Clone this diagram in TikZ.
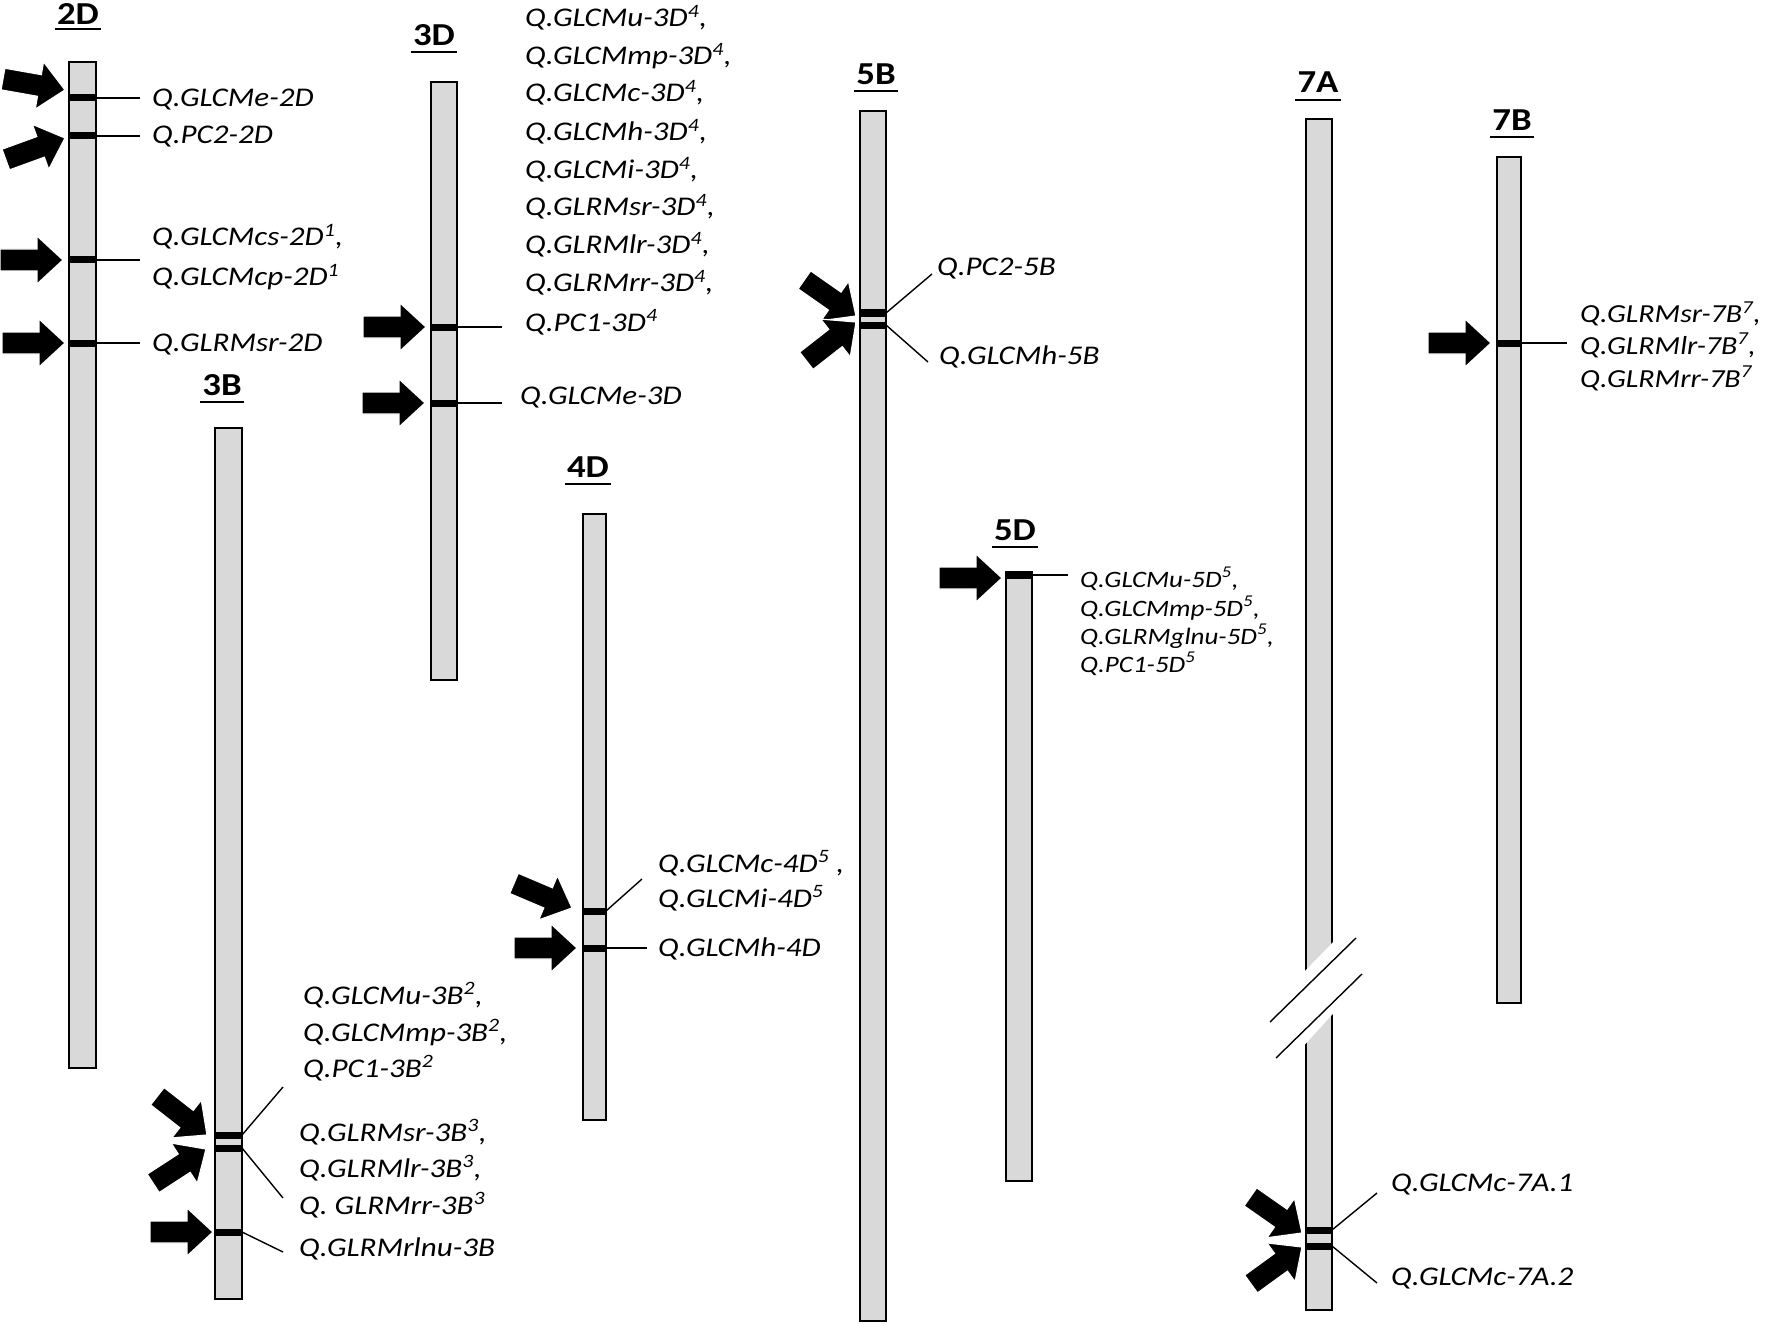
\documentclass[tikz,border=0pt]{standalone}
\usepackage{fontspec}
\setmainfont{Carlito}[FakeStretch=1.15]
\newcommand\qsup[1]{\textsuperscript{#1}}
\newcommand\bnd[4]{\draw[bandline] (#2,#4) -- (#3,#4); \coordinate (#1) at (#3,#4);}
\newcommand\ldr[3]{\coordinate (#1e) at (#2,#3); \draw[leader] (#1) -- (#1e);}
\newcommand\barr[3]{\fill[barrow, shift={(#1,#2)}, rotate=#3] (0,0) -- (-26,24) -- (-26,11) -- (-63,11) -- (-63,-11) -- (-26,-11) -- (-26,-24) -- cycle;}
\newcommand\chead[5]{\node[head] (#1) at (#2,#3) {#4};
  \draw[line width=2.5pt] ([xshift=-2pt]#1.west |- 0,#5) -- ([xshift=2pt]#1.east |- 0,#5);}
\newcommand\lab[5]{\node[lab,font=\fontsize{#4}{#4}\selectfont\itshape] (#1) at (#2,#3) {#5};}
\begin{document}
\begin{tikzpicture}[x=1pt,y=-1pt,
 chrom/.style={draw=black,line width=2pt,fill=gray!30},
 bandline/.style={line width=7pt},
 leader/.style={line width=1.4pt},
 barrow/.style={fill=black,draw=white,line width=1.2pt,line join=miter},
 lab/.style={inner sep=0pt,anchor=base west},
 head/.style={font=\fontsize{32}{36}\selectfont\bfseries,inner sep=0pt,anchor=base},
]
\useasboundingbox[fill=white] (0,0) rectangle (1772,1324);

% ---------- chromosomes
\draw[chrom] (69,62) rectangle (96,1068);
\draw[chrom] (215,428) rectangle (242,1299);
\draw[chrom] (431,82) rectangle (457,680);
\draw[chrom] (583,514) rectangle (606,1120);
\draw[chrom] (860,111) rectangle (886,1321);
\draw[chrom] (1006,572) rectangle (1032,1181);
\draw[chrom] (1306,119) rectangle (1332,1310);
\draw[chrom] (1497,157) rectangle (1521,1003);

% break in 7A
\fill[white] (1300,976) -- (1340,935) -- (1340,1006) -- (1300,1050) -- cycle;
\draw[line width=1.4pt] (1270,1022) -- (1356,938);
\draw[line width=1.4pt] (1276,1058) -- (1362,974);

% ---------- headings
\chead{h2D}{78}{25}{2D}{29}
\chead{h3B}{222}{395}{3B}{402}
\chead{h3D}{434}{46}{3D}{52}
\chead{h4D}{588}{477}{4D}{484}
\chead{h5B}{876}{85}{5B}{91}
\chead{h5D}{1015}{540}{5D}{547}
\chead{h7A}{1318}{93}{7A}{100}
\chead{h7B}{1512}{131}{7B}{137}

% ---------- bands
\bnd{b2a}{69}{96}{98}
\bnd{b2b}{69}{96}{136}
\bnd{b2c}{69}{96}{260}
\bnd{b2d}{69}{96}{343}
\bnd{b3Da}{431}{457}{327}
\bnd{b3Db}{431}{457}{403}
\bnd{b3Ba}{215}{242}{1135}
\bnd{b3Bb}{215}{242}{1148}
\bnd{b3Bc}{215}{242}{1232}
\bnd{b4Da}{583}{606}{911}
\bnd{b4Db}{583}{606}{948}
\bnd{b5Ba}{860}{886}{313}
\bnd{b5Bb}{860}{886}{325}
\bnd{b5D}{1006}{1032}{575}
\bnd{b7Aa}{1306}{1332}{1230}
\bnd{b7Ab}{1306}{1332}{1246}
\bnd{b7B}{1497}{1521}{343}

% ---------- leaders
\ldr{b2a}{140}{98}
\ldr{b2b}{140}{136}
\ldr{b2c}{140}{260}
\ldr{b2d}{140}{343}
\ldr{b3Da}{502}{327}
\ldr{b3Db}{502}{403}
\ldr{b3Ba}{283}{1087}
\ldr{b3Bb}{283}{1198}
\ldr{b3Bc}{283}{1252}
\ldr{b4Da}{642}{879}
\ldr{b4Db}{647}{948}
\ldr{b5Ba}{932}{274}
\ldr{b5Bb}{928}{362}
\ldr{b5D}{1068}{575}
\ldr{b7Aa}{1377}{1193}
\ldr{b7Ab}{1377}{1283}
\ldr{b7B}{1567}{343}

% ---------- block arrows
\barr{65}{90}{-10}
\barr{65}{138}{20}
\barr{63}{260}{0}
\barr{65}{343}{0}
\barr{426}{327}{0}
\barr{425}{403}{0}
\barr{207}{1135}{-38}
\barr{206}{1149}{33}
\barr{213}{1232}{0}
\barr{572}{908}{-23}
\barr{577}{948}{0}
\barr{856}{316}{-35}
\barr{856}{322}{38}
\barr{1002}{578}{0}
\barr{1302}{1233}{-35}
\barr{1302}{1247}{36}
\barr{1491}{343}{0}

% ---------- labels
\lab{l2a}{152}{107}{27}{Q.GLCMe-2D}
\lab{l2b}{152}{144}{27}{Q.PC2-2D}
\lab{l2c}{152}{246}{27}{Q.GLCMcs-2D\qsup{1},}
\lab{l2d}{152}{286}{27}{Q.GLCMcp-2D\qsup{1}}
\lab{l2e}{152}{351}{27}{Q.GLRMsr-2D}

\lab{l3Da}{525}{27}{27}{Q.GLCMu-3D\qsup{4},}
\lab{l3Db}{525}{65}{27}{Q.GLCMmp-3D\qsup{4},}
\lab{l3Dc}{525}{102}{27}{Q.GLCMc-3D\qsup{4},}
\lab{l3Dd}{525}{141}{27}{Q.GLCMh-3D\qsup{4},}
\lab{l3De}{525}{179}{27}{Q.GLCMi-3D\qsup{4},}
\lab{l3Df}{525}{216}{27}{Q.GLRMsr-3D\qsup{4},}
\lab{l3Dg}{525}{254}{27}{Q.GLRMlr-3D\qsup{4},}
\lab{l3Dh}{525}{292}{27}{Q.GLRMrr-3D\qsup{4},}
\lab{l3Di}{525}{331}{27}{Q.PC1-3D\qsup{4}}
\lab{l3Dj}{520}{404}{27}{Q.GLCMe-3D}

\lab{l3Ba}{303}{1004}{27}{Q.GLCMu-3B\qsup{2},}
\lab{l3Bb}{303}{1041}{27}{Q.GLCMmp-3B\qsup{2},}
\lab{l3Bc}{303}{1077}{27}{Q.PC1-3B\qsup{2}}
\lab{l3Bd}{299}{1141}{27}{Q.GLRMsr-3B\qsup{3},}
\lab{l3Be}{299}{1177}{27}{Q.GLRMlr-3B\qsup{3},}
\lab{l3Bf}{299}{1214}{27}{Q. GLRMrr-3B\qsup{3}}
\lab{l3Bg}{299}{1256}{27}{Q.GLRMrlnu-3B}

\lab{l4Da}{658}{872}{27}{Q.GLCMc-4D\qsup{5} ,}
\lab{l4Db}{658}{907}{27}{Q.GLCMi-4D\qsup{5}}
\lab{l4Dc}{658}{956}{27}{Q.GLCMh-4D}

\lab{l5Ba}{937}{276}{27}{Q.PC2-5B}
\lab{l5Bb}{939}{364}{27}{Q.GLCMh-5B}

\lab{l5Da}{1080}{587}{23.5}{Q.GLCMu-5D\qsup{5},}
\lab{l5Db}{1080}{616}{23.5}{Q.GLCMmp-5D\qsup{5},}
\lab{l5Dc}{1080}{644}{23.5}{Q.GLRMglnu-5D\qsup{5},}
\lab{l5Dd}{1080}{672}{23.5}{Q.PC1-5D\qsup{5}}

\lab{l7Aa}{1391}{1191}{27}{Q.GLCMc-7A.1}
\lab{l7Ab}{1391}{1285}{27}{Q.GLCMc-7A.2}

\lab{l7Ba}{1580}{323}{26}{Q.GLRMsr-7B\qsup{7},}
\lab{l7Bb}{1580}{354}{26}{Q.GLRMlr-7B\qsup{7},}
\lab{l7Bc}{1580}{387}{26}{Q.GLRMrr-7B\qsup{7}}
\end{tikzpicture}
\end{document}
